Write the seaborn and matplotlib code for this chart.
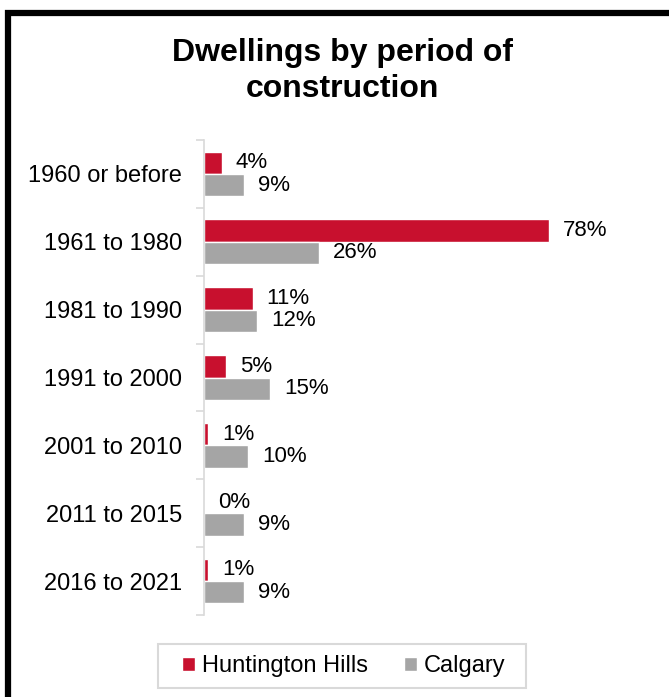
import pandas as pd
import matplotlib
matplotlib.use("Agg")
import matplotlib.pyplot as plt
import seaborn as sns
from matplotlib.patches import Rectangle

# Data
periods = ["1960 or before", "1961 to 1980", "1981 to 1990", "1991 to 2000",
           "2001 to 2010", "2011 to 2015", "2016 to 2021"]
huntington_hills = [4, 78, 11, 5, 1, 0, 1]
calgary = [9, 26, 12, 15, 10, 9, 9]
series_names = ["Huntington Hills", "Calgary"]
colors = ["#C8102E", "#A5A5A5"]

df = pd.DataFrame({
    "Period": periods * 2,
    "Share": huntington_hills + calgary,
    "Area": [series_names[0]] * len(periods) + [series_names[1]] * len(periods),
})

sns.set_style("white")
plt.rcParams["font.family"] = ["Liberation Sans", "DejaVu Sans"]
plt.rcParams["text.color"] = "black"
plt.rcParams["ytick.color"] = "black"

fig = plt.figure(figsize=(6.69, 6.97), dpi=100)
ax = fig.add_axes([204 / 669, 1 - 615 / 697, 442 / 669, 475 / 697])

sns.barplot(data=df, y="Period", x="Share", hue="Area", order=periods,
            hue_order=series_names, palette=colors, orient="h",
            width=0.66, saturation=1, ax=ax)

for cont in ax.containers:
    ax.bar_label(cont, fmt="%d%%", padding=10, fontsize=16, color="black")

ax.set_xlim(0, 100)
ax.set_ylim(len(periods) - 0.5, -0.5)
ax.set_xlabel("")
ax.set_ylabel("")
ax.set_xticks([])
ax.tick_params(axis="y", which="major", length=0, labelsize=17, pad=16,
               labelcolor="black")
ax.set_yticks([i - 0.5 for i in range(len(periods) + 1)], minor=True)
ax.tick_params(axis="y", which="minor", left=True, length=6,
               color="#D9D9D9", width=1.2)
for side in ["top", "right", "bottom"]:
    ax.spines[side].set_visible(False)
ax.spines["left"].set_color("#D9D9D9")
ax.spines["left"].set_linewidth(1.2)

# Legend (frame drawn separately so its size matches the reference)
handles, labels = ax.get_legend_handles_labels()
ax.get_legend().remove()
fig.legend(handles, labels, loc="center", bbox_to_anchor=(344 / 669, 1 - 666 / 697),
           ncol=2, fontsize=17, frameon=False,
           handlelength=0.55, handleheight=0.55, handletextpad=0.3,
           columnspacing=1.5, borderpad=0.4)
fig.patches.append(Rectangle((158 / 669, 1 - 688 / 697), 368 / 669, 44 / 697,
                             transform=fig.transFigure, fill=False,
                             edgecolor="#D9D9D9", linewidth=1.5))

# Title
fig.text(342 / 669, 1 - 71 / 697, "Dwellings by period of\nconstruction",
         ha="center", va="center", fontsize=23, fontweight="bold",
         linespacing=1.22, color="black")

# Outer frame (extends beyond right and bottom edges)
fig.patches.append(Rectangle((8 / 669, -0.05), 1.2, 1 - 13 / 697 + 0.05,
                             transform=fig.transFigure, fill=False,
                             edgecolor="black", linewidth=4.5))

plt.savefig("out.png", dpi=100)
plt.close()
